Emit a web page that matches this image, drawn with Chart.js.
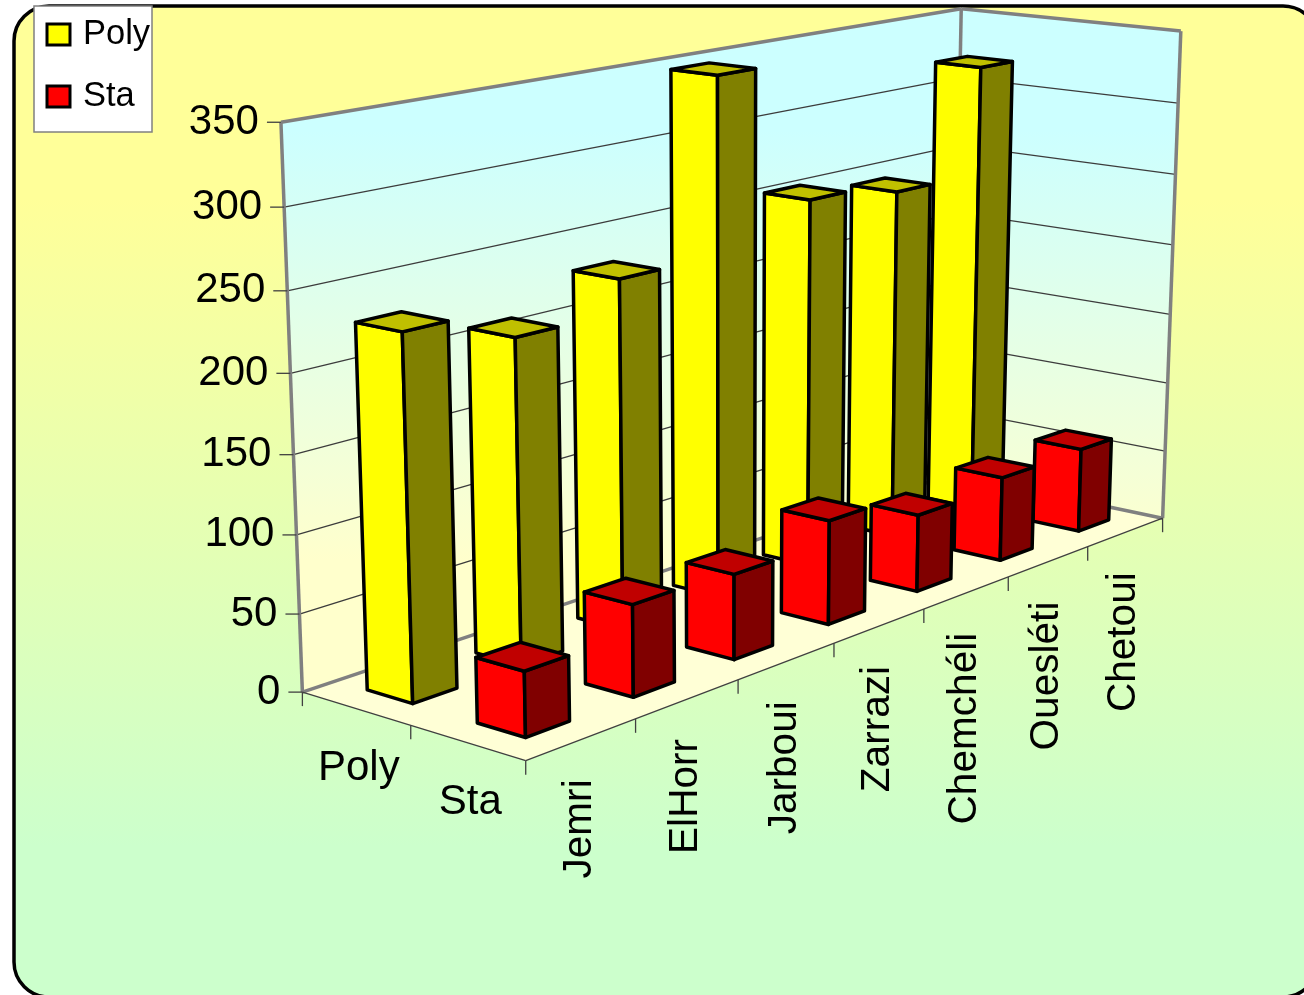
<!DOCTYPE html>
<html>
<head>
<meta charset="utf-8">
<title>Poly / Sta</title>
<script src="https://cdn.jsdelivr.net/npm/chart.js@4"></script>
<style>
  html, body { margin: 0; padding: 0; background: #fff; }
  #wrap { width: 1304px; height: 995px; overflow: hidden; }
</style>
</head>
<body>
<div id="wrap"><canvas id="chart" width="1304" height="995"></canvas></div>
<script>
const categories = ["Jemri", "ElHorr", "Jarboui", "Zarrazi", "Chemchéli", "Ouesléti", "Chetoui"];
const depthLabels = ["Sta", "Poly"];
const polyValues = [230, 210, 231, 348, 254, 246, 321];
const staValues = [41, 59, 56, 70, 53, 59, 60];

const FONT = '"Liberation Sans", Arial, sans-serif';

// where the plot box lands on screen: [u, d, v] => [px, py]
const boxCorners = [
  [[0, 0, 0], [525, 761]],
  [[1, 0, 0], [1163, 517]],
  [[0, 1, 0], [303, 692]],
  [[1, 1, 0], [952, 475]],
  [[0, 1, 1], [281, 122]],
  [[1, 1, 1], [961, 8]],
  [[1, 0, 1], [1181, 32]]
];

// least squares fit of a 3x4 camera matrix (last entry fixed to 1)
function fitCamera(pairs) {
  const rows = [], rhs = [];
  pairs.forEach(([[u, d, v], [px, py]]) => {
    const x = px / 1000, y = py / 1000;
    rows.push([u, d, v, 1, 0, 0, 0, 0, -x * u, -x * d, -x * v]); rhs.push(x);
    rows.push([0, 0, 0, 0, u, d, v, 1, -y * u, -y * d, -y * v]); rhs.push(y);
  });
  const n = 11;
  const m = [];
  for (let i = 0; i < n; i++) {
    m[i] = [];
    for (let j = 0; j < n; j++) {
      m[i][j] = rows.reduce((s, r) => s + r[i] * r[j], 0);
    }
    m[i][n] = rows.reduce((s, r, k) => s + r[i] * rhs[k], 0);
    m[i][i] += 1e-9;
  }
  for (let i = 0; i < n; i++) {
    let best = i;
    for (let k = i + 1; k < n; k++) if (Math.abs(m[k][i]) > Math.abs(m[best][i])) best = k;
    [m[i], m[best]] = [m[best], m[i]];
    for (let k = 0; k < n; k++) {
      if (k === i) continue;
      const f = m[k][i] / m[i][i];
      for (let j = i; j <= n; j++) m[k][j] -= f * m[i][j];
    }
  }
  return m.map((r, i) => r[n] / r[i]);
}

const cam = fitCamera(boxCorners);

function project(u, d, v) {
  const w = cam[8] * u + cam[9] * d + cam[10] * v + 1;
  return [
    1000 * (cam[0] * u + cam[1] * d + cam[2] * v + cam[3]) / w,
    1000 * (cam[4] * u + cam[5] * d + cam[6] * v + cam[7]) / w
  ];
}

function poly(ctx, pts) {
  ctx.beginPath();
  pts.forEach((p, i) => i ? ctx.lineTo(p[0], p[1]) : ctx.moveTo(p[0], p[1]));
  ctx.closePath();
}

function seg(ctx, a, b) {
  ctx.beginPath();
  ctx.moveTo(a[0], a[1]);
  ctx.lineTo(b[0], b[1]);
  ctx.stroke();
}

// scale helpers: everything goes from data value to 0..1 box position
function uOf(scale, i) { return (scale.getPixelForValue(i) - scale.left) / scale.width; }
function vOf(scale, val) { return (scale.bottom - scale.getPixelForValue(val)) / scale.height; }

class Box3dController extends Chart.BarController {
  draw() {
    const meta = this.getMeta();
    const ctx = this.chart.ctx;
    const { x, y, depth } = this.chart.scales;
    const ds = this.getDataset();
    const halfU = 0.2 / categories.length;
    const halfD = 0.21 / depthLabels.length;
    const dc = uOf(depth, depthLabels.indexOf(ds.label));
    // far bars first so the nearer ones cover them
    for (let i = meta.data.length - 1; i >= 0; i--) {
      const uc = uOf(x, i);
      const top = vOf(y, this.getParsed(i).y);
      const u0 = uc - halfU, u1 = uc + halfU, d0 = dc - halfD, d1 = dc + halfD;
      const left = [[u0, d1, 0], [u0, d0, 0], [u0, d0, top], [u0, d1, top]];
      const front = [[u0, d0, 0], [u1, d0, 0], [u1, d0, top], [u0, d0, top]];
      const cap = [[u0, d0, top], [u1, d0, top], [u1, d1, top], [u0, d1, top]];
      ctx.save();
      ctx.lineWidth = 3.5;
      ctx.lineJoin = "round";
      ctx.strokeStyle = "#000";
      [[left, ds.faceColor], [front, ds.sideColor], [cap, ds.topColor]].forEach(([f, col]) => {
        poly(ctx, f.map(q => project(q[0], q[1], q[2])));
        ctx.fillStyle = col;
        ctx.fill();
        ctx.stroke();
      });
      ctx.restore();
    }
  }
}
Box3dController.id = "box3d";
Box3dController.defaults = Chart.BarController.defaults;
Chart.register(Box3dController);

const backdrop = {
  id: "backdrop",
  beforeDraw(chart) {
    const ctx = chart.ctx;
    const g = ctx.createLinearGradient(0, 0, 0, 995);
    g.addColorStop(0, "#FFFF99");
    g.addColorStop(0.2, "#FFFF99");
    g.addColorStop(0.85, "#CCFFCC");
    g.addColorStop(1, "#CCFFCC");
    ctx.save();
    ctx.beginPath();
    ctx.roundRect(14, 6, 1304, 991, 35);
    ctx.fillStyle = g;
    ctx.fill();
    ctx.lineWidth = 3.5;
    ctx.strokeStyle = "#000";
    ctx.stroke();
    ctx.restore();
  }
};

const box = {
  id: "box",
  beforeDatasetsDraw(chart) {
    const ctx = chart.ctx;
    const { x, y, depth } = chart.scales;
    const wall = ctx.createLinearGradient(0, 130, 0, 560);
    wall.addColorStop(0, "#CCFFFF");
    wall.addColorStop(1, "#FFFFCC");
    ctx.save();
    ctx.lineJoin = "round";

    poly(ctx, [project(0, 0, 0), project(1, 0, 0), project(1, 1, 0), project(0, 1, 0)]);
    ctx.fillStyle = "#FFFFD6";
    ctx.fill();
    poly(ctx, [project(0, 1, 0), project(1, 1, 0), project(1, 1, 1), project(0, 1, 1)]);
    ctx.fillStyle = wall;
    ctx.fill();
    poly(ctx, [project(1, 1, 0), project(1, 0, 0), project(1, 0, 1), project(1, 1, 1)]);
    ctx.fill();

    // gridlines on both walls
    ctx.strokeStyle = "#3c3c3c";
    ctx.lineWidth = 1.3;
    y.ticks.forEach(t => {
      const v = vOf(y, t.value);
      if (v <= 0 || v >= 1) return;
      seg(ctx, project(0, 1, v), project(1, 1, v));
      seg(ctx, project(1, 1, v), project(1, 0, v));
    });

    // wall outlines
    ctx.strokeStyle = "#808080";
    ctx.lineWidth = 3.5;
    seg(ctx, project(0, 1, 0), project(0, 1, 1));
    seg(ctx, project(0, 1, 1), project(1, 1, 1));
    seg(ctx, project(1, 1, 1), project(1, 0, 1));
    seg(ctx, project(1, 0, 1), project(1, 0, 0));
    seg(ctx, project(1, 1, 0), project(1, 1, 1));
    seg(ctx, project(0, 1, 0), project(1, 1, 0));
    seg(ctx, project(1, 1, 0), project(1, 0, 0));

    // floor front edges
    ctx.strokeStyle = "#404040";
    ctx.lineWidth = 1.3;
    seg(ctx, project(0, 0, 0), project(1, 0, 0));
    seg(ctx, project(0, 0, 0), project(0, 1, 0));

    // tick marks
    y.ticks.forEach(t => {
      const p = project(0, 1, vOf(y, t.value));
      seg(ctx, [p[0] - 14, p[1]], p);
    });
    for (let i = 0; i <= categories.length; i++) {
      const p = project(i / categories.length, 0, 0);
      seg(ctx, p, [p[0], p[1] + 14]);
    }
    for (let i = 1; i <= depthLabels.length; i++) {
      const p = project(0, i / depthLabels.length, 0);
      seg(ctx, p, [p[0], p[1] + 14]);
    }

    // axis text
    ctx.fillStyle = "#000";
    ctx.font = "42px " + FONT;
    ctx.textAlign = "right";
    ctx.textBaseline = "middle";
    y.ticks.forEach(t => {
      const p = project(0, 1, vOf(y, t.value));
      ctx.fillText(t.label, p[0] - 22, p[1]);
    });
    ctx.textAlign = "center";
    depthLabels.forEach((lab, i) => {
      const p = project(0, uOf(depth, i), 0);
      ctx.fillText(lab, p[0] + 3, p[1] + 60);
    });
    ctx.font = "40.6px " + FONT;
    x.getLabels().forEach((lab, i) => {
      const p = project(uOf(x, i), 0, 0);
      ctx.save();
      ctx.translate(p[0] - 2, p[1] + 40);
      ctx.rotate(-Math.PI / 2);
      ctx.textAlign = "right";
      ctx.fillText(lab, 0, 0);
      ctx.restore();
    });
    ctx.restore();
  },
  afterDraw(chart) {
    // legend box in the corner
    const ctx = chart.ctx;
    ctx.save();
    ctx.fillStyle = "#fff";
    ctx.strokeStyle = "#808080";
    ctx.lineWidth = 1.5;
    ctx.fillRect(34, 6, 118, 126);
    ctx.strokeRect(34, 6, 118, 126);
    ctx.font = "34.5px " + FONT;
    ctx.textBaseline = "alphabetic";
    ctx.textAlign = "left";
    chart.data.datasets.forEach((ds, i) => {
      const top = 24 + i * 62;
      ctx.fillStyle = ds.faceColor;
      ctx.strokeStyle = "#000";
      ctx.lineWidth = 3;
      ctx.fillRect(47, top, 23, 21);
      ctx.strokeRect(47, top, 23, 21);
      ctx.fillStyle = "#000";
      ctx.fillText(ds.label, 83, top + 20);
    });
    ctx.restore();
  }
};

new Chart(document.getElementById("chart"), {
  type: "box3d",
  data: {
    labels: categories,
    datasets: [
      { label: "Poly", data: polyValues, order: 1, faceColor: "#FFFF00", sideColor: "#808000", topColor: "#C0C000" },
      { label: "Sta", data: staValues, order: 0, faceColor: "#FF0000", sideColor: "#800000", topColor: "#C00000" }
    ]
  },
  options: {
    responsive: false,
    animation: false,
    layout: { padding: 0 },
    plugins: { legend: { display: false }, tooltip: { enabled: false } },
    scales: {
      x: { type: "category", offset: true, display: false },
      depth: { type: "category", axis: "x", labels: depthLabels, offset: true, display: false },
      y: { min: 0, max: 350, ticks: { stepSize: 50 }, display: false }
    }
  },
  plugins: [backdrop, box]
});
</script>
</body>
</html>
